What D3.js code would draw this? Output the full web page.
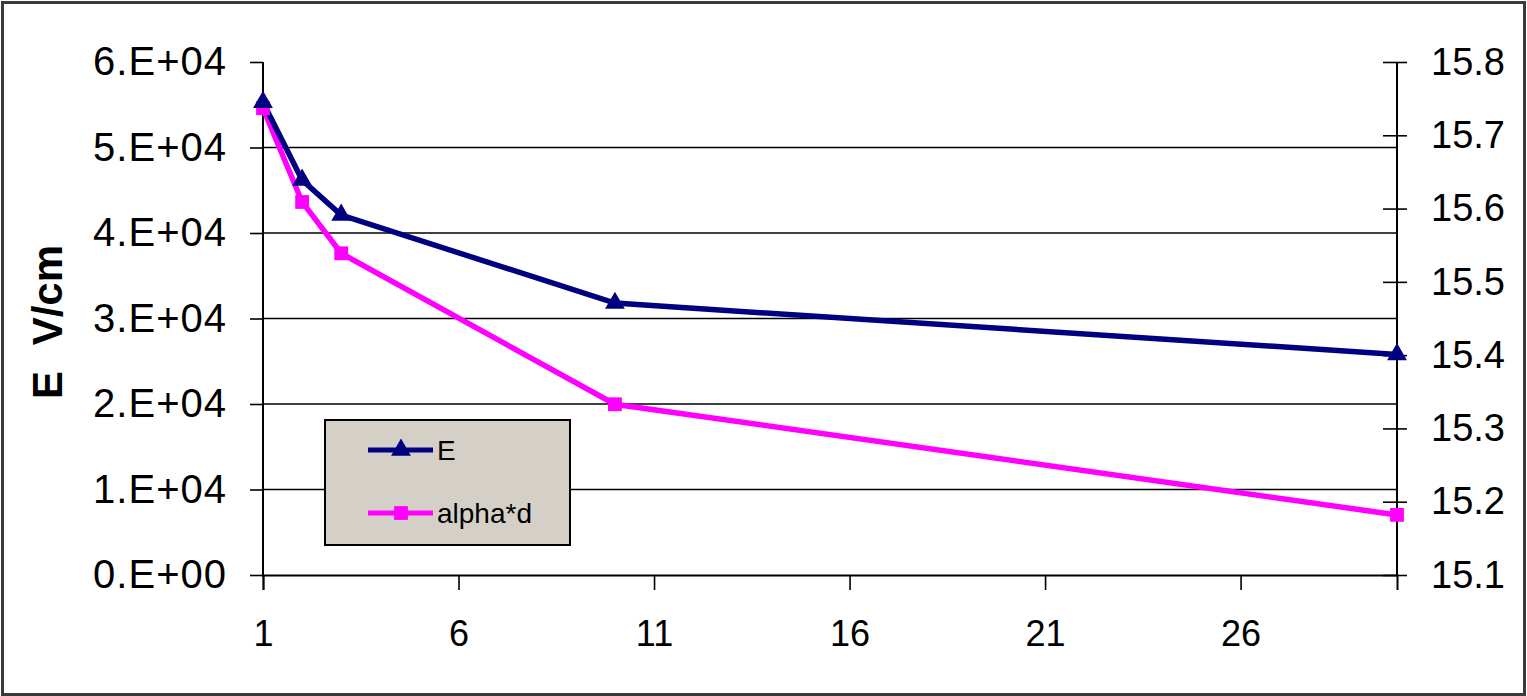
<!DOCTYPE html>
<html>
<head>
<meta charset="utf-8">
<script src="https://cdn.jsdelivr.net/npm/d3@7"></script>
<style>
  body { margin: 0; background: #ffffff; }
  text { font-family: "Liberation Sans", Arial, sans-serif; }
</style>
</head>
<body>
<svg id="chart" width="1527" height="696"></svg>
<script>
// x positions of the measured points
const xValues = [1, 2, 3, 10, 30]
// E in V/cm (left axis)
const eValues = [55300, 46200, 42100, 31800, 25800]
// alpha*d (right axis)
const alphaValues = [15.737, 15.609, 15.539, 15.333, 15.182]
const xTicks = [1, 6, 11, 16, 21, 26]
const leftTicks = [0, 10000, 20000, 30000, 40000, 50000, 60000]
const rightTicks = [15.1, 15.2, 15.3, 15.4, 15.5, 15.6, 15.7, 15.8]
const seriesNames = ["E", "alpha*d"]

function drawChart() {
  var svg = d3.select("#chart")
  var width = +svg.attr("width")
  var height = +svg.attr("height")
  const margins = {left: 263, right: 130, top: 62, bottom: 121}
  const navy = "#000080"
  const magenta = "#ff00ff"

  // outer frame
  svg.append("rect")
    .attr("x", 2.5).attr("y", 2.5)
    .attr("width", width - 5).attr("height", height - 4)
    .attr("fill", "#ffffff")
    .attr("stroke", "#3a3a3a")
    .attr("stroke-width", 3)

  var x = d3.scaleLinear().domain([1, 30]).range([margins.left, width - margins.right])
  var yLeft = d3.scaleLinear().domain([0, 60000]).range([height - margins.bottom, margins.top])
  var yRight = d3.scaleLinear().domain([15.1, 15.8]).range([height - margins.bottom, margins.top])

  // gridlines from the left axis
  svg.append("g")
    .selectAll("line")
    .data(leftTicks.filter(d => d > 0 && d < 60000))
    .join("line")
    .attr("x1", x(1)).attr("x2", x(30))
    .attr("y1", d => yLeft(d)).attr("y2", d => yLeft(d))
    .attr("stroke", "#000").attr("stroke-width", 1.6)

  // axes
  var leftAxis = d3.axisLeft(yLeft).tickValues(leftTicks).tickSize(13).tickPadding(23)
    .tickFormat(d => d == 0 ? "0.E+00" : `${d / 10000}.E+04`)
  var leftG = svg.append("g").attr("transform", `translate(${x(1)},0)`).call(leftAxis)

  var rightAxis = d3.axisRight(yRight).tickValues(rightTicks).tickSize(10).tickPadding(24)
    .tickFormat(d3.format(".1f"))
  var rightG = svg.append("g").attr("transform", `translate(${x(30)},0)`).call(rightAxis)
  // right ticks cross the axis line
  rightG.selectAll(".tick line").attr("x1", -14)

  var bottomAxis = d3.axisBottom(x).tickValues(xTicks).tickSize(15).tickPadding(30)
    .tickFormat(d3.format("d"))
  var bottomG = svg.append("g").attr("transform", `translate(0,${yLeft(0)})`).call(bottomAxis)

  for (const g of [leftG, rightG, bottomG]) {
    g.selectAll("path.domain").attr("stroke", "#000").attr("stroke-width", 2)
    g.selectAll(".tick line").attr("stroke", "#000").attr("stroke-width", 1.6)
    g.selectAll(".tick text").attr("fill", "#000").attr("font-size", 38)
  }
  leftG.selectAll(".tick text").attr("font-size", 40).attr("letter-spacing", 1)
  bottomG.selectAll(".tick text").attr("font-size", 36)
  leftG.select("path.domain").attr("d", `M0,${yLeft(60000)}V${yLeft(0) + 2}`)
  rightG.select("path.domain").attr("d", `M0,${yRight(15.8)}V${yRight(15.1)}`)

  // y axis title
  svg.append("text")
    .attr("transform", `translate(62, 322) rotate(-90)`)
    .attr("text-anchor", "middle")
    .attr("font-size", 42)
    .attr("font-weight", "bold")
    .attr("word-spacing", 14)
    .attr("fill", "#000")
    .text("E V/cm")

  // lines
  var eLine = d3.line().x((d, i) => x(xValues[i])).y(d => yLeft(d))
  var aLine = d3.line().x((d, i) => x(xValues[i])).y(d => yRight(d))
  svg.append("path").datum(alphaValues).attr("d", aLine)
    .attr("fill", "none").attr("stroke", magenta).attr("stroke-width", 5.5)
  svg.append("path").datum(eValues).attr("d", eLine)
    .attr("fill", "none").attr("stroke", navy).attr("stroke-width", 5.5)

  var square = d3.symbol().type(d3.symbolSquare).size(190)
  var triangle = d3.symbol().type(d3.symbolTriangle).size(170)
  svg.append("g").selectAll("path")
    .data(alphaValues)
    .join("path")
    .attr("d", square)
    .attr("transform", (d, i) => `translate(${x(xValues[i])},${yRight(d)})`)
    .attr("fill", magenta)
  svg.append("g").selectAll("path")
    .data(eValues)
    .join("path")
    .attr("d", triangle)
    .attr("transform", (d, i) => `translate(${x(xValues[i])},${yLeft(d)})`)
    .attr("fill", navy)

  // legend
  var legend = svg.append("g").attr("transform", "translate(325,420)")
  legend.append("rect")
    .attr("width", 245).attr("height", 125)
    .attr("fill", "#d4d0c8").attr("stroke", "#000").attr("stroke-width", 2)
  const legendColors = [navy, magenta]
  const legendSymbols = [triangle, square]
  seriesNames.forEach((name, i) => {
    const ly = 30 + i * 63
    legend.append("line")
      .attr("x1", 43).attr("x2", 108).attr("y1", ly).attr("y2", ly)
      .attr("stroke", legendColors[i]).attr("stroke-width", 5)
    legend.append("path")
      .attr("d", legendSymbols[i])
      .attr("transform", `translate(76,${ly})`)
      .attr("fill", legendColors[i])
    legend.append("text")
      .attr("x", 112).attr("y", ly + 10)
      .attr("font-size", 28)
      .attr("fill", "#000")
      .text(name)
  })
}

document.addEventListener("DOMContentLoaded", () => {
  drawChart()
})
</script>
</body>
</html>
